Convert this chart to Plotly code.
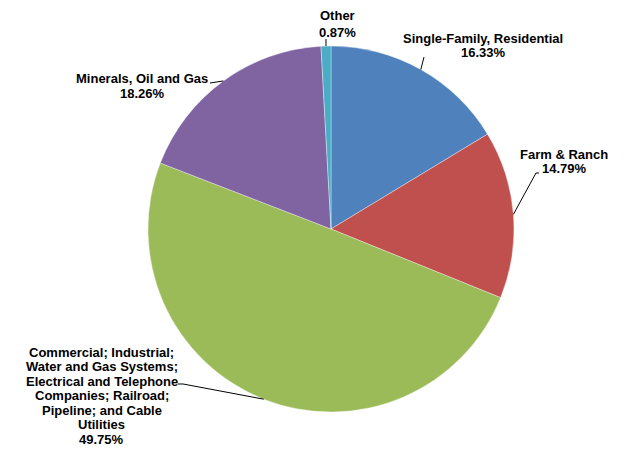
import math
import plotly.graph_objects as go

categories = ["Single-Family, Residential", "Farm & Ranch",
              "Commercial; Industrial; Water and Gas Systems; Electrical and Telephone Companies; Railroad; Pipeline; and Cable Utilities",
              "Minerals, Oil and Gas", "Other"]
values = [16.33, 14.79, 49.75, 18.26, 0.87]
colors = ["#4F81BD", "#C0504D", "#9BBB59", "#8064A2", "#4BACC6"]
label_lines = [
    ["Single-Family, Residential"],
    ["Farm & Ranch"],
    ["Commercial; Industrial;", "Water and Gas Systems;", "Electrical and Telephone",
     "Companies; Railroad;", "Pipeline; and Cable", "Utilities"],
    ["Minerals, Oil and Gas"],
    ["Other"],
]

OFF = 8  # page body margin
W, H = 631 - OFF, 459 - OFF
CX, CY, R = 331, 229, 183  # pie layout in window pixels

# label layout (pixel centres of first text line, line step) and leader elbows
label_pos = [(483, 38, 14.6), (564, 154, 15), (102, 352, 14.5), (142, 78, 15), (337, 16, 16)]
leader_pts = [[(424, 57)], [(536, 173), (539, 173)], [(183, 384), (178, 384)], [(210, 83)], [(326, 39)]]

def px(x):
    return (x - OFF) / W

def py(y):
    return 1 - (y - OFF) / H

fig = go.Figure(go.Pie(
    labels=categories, values=values, sort=False, direction="clockwise", rotation=0,
    marker=dict(colors=colors, line=dict(color="rgba(255,255,255,0.6)", width=0.6)),
    textinfo="none", hoverinfo="label+percent", showlegend=False,
    domain=dict(x=[px(CX - R), px(CX + R)], y=[py(CY + R), py(CY - R)]),
))

font = dict(family="Liberation Sans, Arial, sans-serif", size=13, color="#000000")
annotations = []
shapes = []
total = sum(values)
cum = 0.0
for i, v in enumerate(values):
    mid = (cum + v / 2) / total * 2 * math.pi
    cum += v
    ex = CX + R * math.sin(mid)
    ey = CY - R * math.cos(mid)
    pts = [(ex, ey)] + leader_pts[i]
    path = "M " + " L ".join(f"{px(a):.5f},{py(b):.5f}" for a, b in pts)
    shapes.append(dict(type="path", xref="paper", yref="paper", path=path,
                       line=dict(color="#000000", width=1)))
    lx, ly, step = label_pos[i]
    lines = label_lines[i] + [f"{v:.2f}%"]
    for k, t in enumerate(lines):
        annotations.append(dict(x=px(lx), y=py(ly + k * step), xref="paper", yref="paper",
                                text=f"<b>{t}</b>", showarrow=False, font=font,
                                xanchor="center", yanchor="middle"))

fig.update_layout(width=W, height=H, margin=dict(l=0, r=0, t=0, b=0),
                  paper_bgcolor="white", plot_bgcolor="white",
                  annotations=annotations, shapes=shapes)
fig.write_html("out.html")
